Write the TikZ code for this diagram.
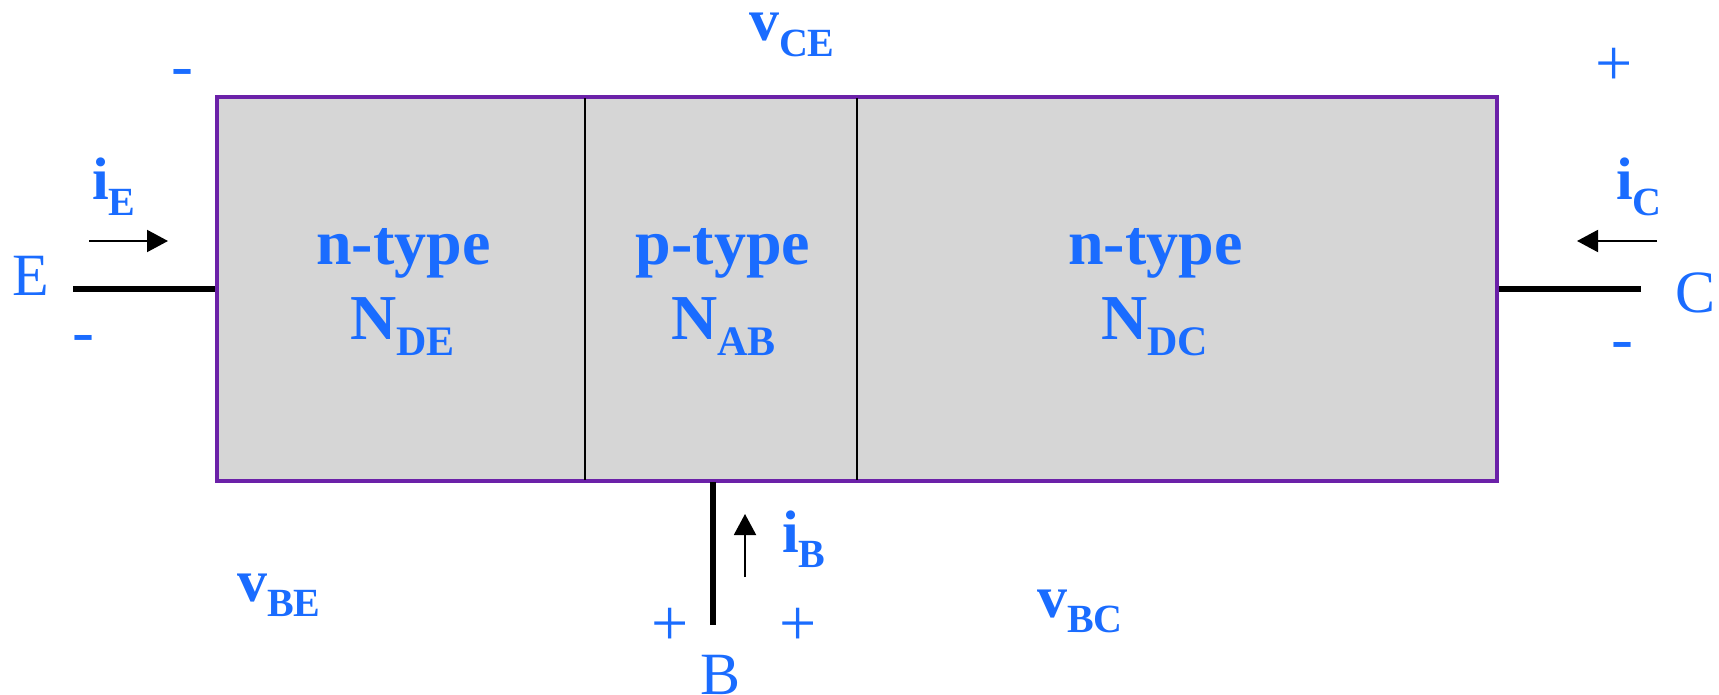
\documentclass[tikz,border=0pt]{standalone}
\usepackage{fontspec}
\setmainfont{Liberation Serif}
\usetikzlibrary{arrows.meta}
\definecolor{lblue}{RGB}{26,108,255}
\definecolor{bpurple}{RGB}{107,33,168}
\definecolor{bgray}{RGB}{214,214,214}
\newcommand{\lsub}[1]{\raisebox{-7.75pt}{\fontsize{20}{20}\selectfont\bfseries #1}}
\newcommand{\rsub}[1]{\raisebox{-8.5pt}{\fontsize{21}{21}\selectfont\bfseries #1}}
\begin{document}
\begin{tikzpicture}[x=0.5pt,y=-0.5pt,
  lab/.style={text=lblue, inner sep=0pt, outer sep=0pt},
  reg/.style={lab, font=\fontsize{32}{32}\selectfont\bfseries},
  blab/.style={lab, font=\fontsize{30}{30}\selectfont\bfseries},
  term/.style={lab, font=\fontsize{30}{30}\selectfont},
  sgn/.style={lab, font=\fontsize{33}{33}\selectfont},
  wire/.style={line width=3pt},
  cur/.style={line width=1pt, -{Triangle[length=10.5pt,width=11pt]}},
  divider/.style={line width=1.3pt}]
\useasboundingbox (0,0) rectangle (1719,695);
% device body
\node[fill=bgray, draw=bpurple, line width=2pt, minimum width=640pt, minimum height=192pt,
      inner sep=0pt, outer sep=0pt] (box) at (857,289) {};
\coordinate (d1t) at (585,98);  \coordinate (d1b) at (585,480);
\coordinate (d2t) at (857,98);  \coordinate (d2b) at (857,480);
\draw[divider] (d1t) -- (d1b);
\draw[divider] (d2t) -- (d2b);
% terminals
\coordinate (Eend) at (73,289);
\coordinate (Cend) at (1641,289);
\coordinate (Btop) at (713,482);
\coordinate (Bend) at (713,625);
\draw[wire, shorten >=1pt] (Eend) -- (box.west);
\draw[wire, shorten <=1pt] (box.east) -- (Cend);
\draw[wire] (Btop) -- (Bend);
% currents
\coordinate (iEs) at (89,241);   \coordinate (iEe) at (168,241);
\coordinate (iCs) at (1657,241); \coordinate (iCe) at (1577,241);
\coordinate (iBs) at (745,577);  \coordinate (iBe) at (745,514);
\draw[cur] (iEs) -- (iEe);
\draw[cur] (iCs) -- (iCe);
\draw[cur] (iBs) -- (iBe);
% region labels
\node[reg, anchor=base] (t1) at (403.5,265) {n-type};
\node[reg, anchor=base] (n1) at (402.5,339) {N\rsub{DE}};
\node[reg, anchor=base] (t2) at (723,265) {p-type};
\node[reg, anchor=base] (n2) at (723.5,339) {N\rsub{AB}};
\node[reg, anchor=base] (t3) at (1155.5,265) {n-type};
\node[reg, anchor=base] (n3) at (1154.5,339) {N\rsub{DC}};
% voltage and current labels
\node[blab, anchor=base west] (vCE) at (749,41) {v\lsub{CE}};
\node[blab, anchor=base west] (vBE) at (237,601) {v\lsub{BE}};
\node[blab, anchor=base west] (vBC) at (1037,617) {v\lsub{BC}};
\node[blab, anchor=base west] (iE) at (92,200) {i\lsub{E}};
\node[blab, anchor=base west] (iC) at (1616,200) {i\lsub{C}};
\node[blab, anchor=base west] (iB) at (782,552) {i\lsub{B}};
% terminal names
\node[term, anchor=base west] (E) at (12,296) {E};
\node[term, anchor=base west] (C) at (1675,313) {C};
\node[term, anchor=base] (B) at (721,694) {B};
% signs
\node[sgn] (p1) at (1614,67) {+};
\node[sgn] (p2) at (670,627) {+};
\node[sgn] (p3) at (798,627) {+};
\node[sgn, anchor=base] (m1) at (182.5,88) {-};
\node[sgn, anchor=base] (m2) at (83.5,353.5) {-};
\node[sgn, anchor=base] (m3) at (1622.5,360) {-};
\end{tikzpicture}
\end{document}
